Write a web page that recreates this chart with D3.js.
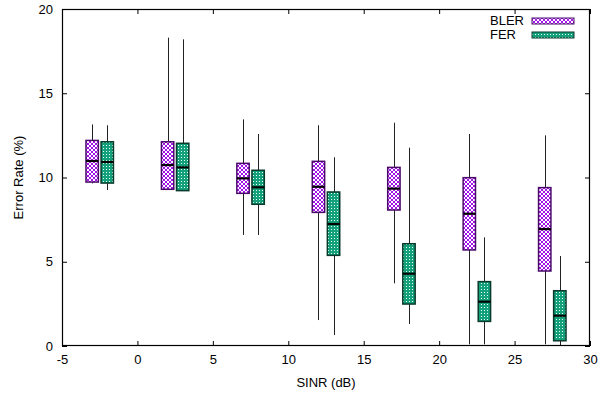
<!DOCTYPE html>
<html>
<head>
<meta charset="utf-8">
<script src="https://cdn.jsdelivr.net/npm/d3@7"></script>
<style>
body { margin: 0; background: #fff; }
text { font-family: "Liberation Sans", Arial, sans-serif; font-size: 13px; fill: #000; }
</style>
</head>
<body>
<script>

let width = 609;
let height = 395;

let margins = {top: 9, right: 19, bottom: 49, left: 62};

// box positions on the SINR axis
let posBLER = [-3, 2, 7, 12, 17, 22, 27];
let posFER = [-2, 3, 8, 13, 18, 23, 28];

// BLER box stats (%)
let blerMin = [9.65, 9.26, 6.59, 1.54, 3.72, 0.1, 0.1];
let blerQ1 = [9.73, 9.3, 9.06, 7.93, 8.07, 5.7, 4.45];
let blerMed = [10.98, 10.74, 9.95, 9.45, 9.34, 7.85, 6.94];
let blerQ3 = [12.2, 12.12, 10.84, 10.96, 10.6, 9.99, 9.4];
let blerMax = [13.15, 18.3, 13.45, 13.1, 13.25, 12.58, 12.5];

// FER box stats (%)
let ferMin = [9.26, 9.2, 6.59, 0.65, 1.31, 0.1, 0];
let ferQ1 = [9.67, 9.22, 8.41, 5.38, 2.49, 1.46, 0.31];
let ferMed = [10.92, 10.6, 9.42, 7.24, 4.29, 2.63, 1.8];
let ferQ3 = [12.12, 12.03, 10.43, 9.14, 6.07, 3.82, 3.28];
let ferMax = [13.1, 18.2, 12.58, 11.2, 11.77, 6.45, 5.34];

let xTicks = [-5, 0, 5, 10, 15, 20, 25, 30];
let yTicks = [0, 5, 10, 15, 20];

let series = [
	{title: "BLER", fill: "url(#hatchBLER)", stroke: "#4a0a6a", pos: posBLER, min: blerMin, q1: blerQ1, med: blerMed, q3: blerQ3, max: blerMax},
	{title: "FER", fill: "url(#dotsFER)", stroke: "#0a3a2c", pos: posFER, min: ferMin, q1: ferQ1, med: ferMed, q3: ferQ3, max: ferMax}
];

let xScale = d3.scaleLinear()
	.range([margins.left, width - margins.right])
	.domain([-5, 30]);

let yScale = d3.scaleLinear()
	.range([height - margins.bottom, margins.top])
	.domain([0, 20]);

let svg = d3.select("body")
	.append("svg")
		.attr("width", width)
		.attr("height", height);

// patterns: pixel crosshatch for BLER, dots for FER
let defs = svg.append("defs");
let hatch = defs.append("pattern")
	.attr("id", "hatchBLER")
	.attr("patternUnits", "userSpaceOnUse")
	.attr("width", 4)
	.attr("height", 4);
hatch.append("rect").attr("width", 4).attr("height", 4).attr("fill", "#fff");
[[0, 0], [1, 1], [2, 2], [3, 3], [3, 0], [2, 1], [1, 2], [0, 3]].forEach(p => {
	hatch.append("rect")
		.attr("x", p[0]).attr("y", p[1])
		.attr("width", 1).attr("height", 1)
		.attr("fill", "#a012e6")
		.attr("shape-rendering", "crispEdges");
});

let dots = defs.append("pattern")
	.attr("id", "dotsFER")
	.attr("patternUnits", "userSpaceOnUse")
	.attr("width", 3)
	.attr("height", 3);
dots.append("rect").attr("width", 3).attr("height", 3).attr("fill", "#14a07a");
dots.append("rect").attr("x", 1).attr("y", 1).attr("width", 1).attr("height", 1).attr("fill", "#e8fff6");

let boxW = xScale(0.82) - xScale(0);
let crisp = v => Math.round(v) + 0.5;

series.forEach(s => {
	let g = svg.append("g").attr("class", "box " + s.title);
	let idx = d3.range(s.pos.length);

	// whiskers
	g.selectAll("line.whisker")
		.data(idx)
		.enter().append("line")
		.attr("class", "whisker")
		.attr("x1", i => crisp(xScale(s.pos[i])))
		.attr("x2", i => crisp(xScale(s.pos[i])))
		.attr("y1", i => yScale(s.min[i]))
		.attr("y2", i => yScale(s.max[i]))
		.style("stroke", "#222")
		.style("stroke-width", 1);

	// boxes
	g.selectAll("rect.iqr")
		.data(idx)
		.enter().append("rect")
		.attr("class", "iqr")
		.attr("x", i => xScale(s.pos[i]) - boxW / 2)
		.attr("y", i => yScale(s.q3[i]))
		.attr("width", boxW)
		.attr("height", i => yScale(s.q1[i]) - yScale(s.q3[i]))
		.style("fill", s.fill)
		.style("stroke", s.stroke)
		.style("stroke-width", 1.5);

	// medians
	g.selectAll("line.median")
		.data(idx)
		.enter().append("line")
		.attr("class", "median")
		.attr("x1", i => xScale(s.pos[i]) - boxW / 2)
		.attr("x2", i => xScale(s.pos[i]) + boxW / 2)
		.attr("y1", i => yScale(s.med[i]))
		.attr("y2", i => yScale(s.med[i]))
		.style("stroke", "#000")
		.style("stroke-width", 2.2);
});

// axes with mirrored inward ticks
let xAxis = d3.axisBottom(xScale).tickValues(xTicks).tickFormat(d => String(d)).tickSizeInner(-5).tickSizeOuter(0).tickPadding(9);
let yAxis = d3.axisLeft(yScale).tickValues(yTicks).tickFormat(d => String(d)).tickSizeInner(-5).tickSizeOuter(0).tickPadding(9);

svg.append("g")
	.attr("class", "x axis")
	.attr("transform", "translate(0," + (height - margins.bottom) + ")")
	.call(xAxis);

svg.append("g")
	.attr("class", "y axis")
	.attr("transform", "translate(" + margins.left + ",0)")
	.call(yAxis);

svg.append("g")
	.attr("transform", "translate(0," + margins.top + ")")
	.call(d3.axisTop(xScale).tickValues(xTicks).tickSizeInner(-5).tickSizeOuter(0).tickFormat(""));

svg.append("g")
	.attr("transform", "translate(" + (width - margins.right) + ",0)")
	.call(d3.axisRight(yScale).tickValues(yTicks).tickSizeInner(-5).tickSizeOuter(0).tickFormat(""));

svg.selectAll(".tick text").style("font-size", "13px").style("font-family", "Liberation Sans, Arial, sans-serif");
svg.selectAll(".domain").remove();
svg.selectAll(".tick line").style("stroke", "#000");

// plot frame
svg.append("rect")
	.attr("x", margins.left + 0.5)
	.attr("y", margins.top + 0.5)
	.attr("width", width - margins.left - margins.right - 1)
	.attr("height", height - margins.top - margins.bottom - 1)
	.style("fill", "none")
	.style("stroke", "#000")
	.style("stroke-width", 1.2);

// axis titles
svg.append("text")
	.attr("x", (margins.left + width - margins.right) / 2)
	.attr("y", 387)
	.attr("text-anchor", "middle")
	.text("SINR (dB)");

svg.append("text")
	.attr("transform", "translate(23," + ((margins.top + height - margins.bottom) / 2) + ") rotate(-90)")
	.attr("text-anchor", "middle")
	.text("Error Rate (%)");

// legend
let legend = svg.selectAll("g.legend")
	.data(series)
	.enter().append("g")
	.attr("class", "legend");

legend.append("text")
	.attr("x", 490)
	.attr("y", (d, i) => 25 + i * 14)
	.text(d => d.title);

legend.append("rect")
	.attr("x", 532)
	.attr("y", (d, i) => 18 + i * 14)
	.attr("width", 42)
	.attr("height", 6)
	.style("fill", d => d.fill)
	.style("stroke", d => d.stroke)
	.style("stroke-width", 1);

</script>
</body>
</html>
